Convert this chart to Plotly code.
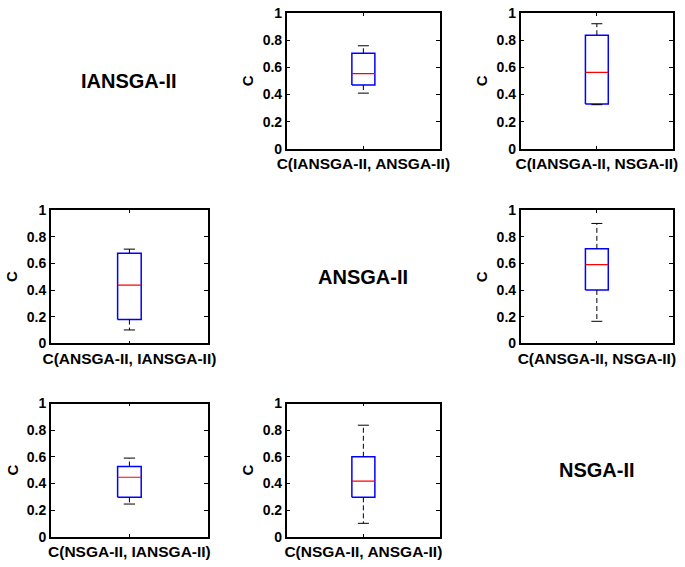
import plotly.graph_objects as go

# ---- data ----
labels = ["C(IANSGA-II, ANSGA-II)", "C(IANSGA-II, NSGA-II)",
          "C(ANSGA-II, IANSGA-II)", "C(ANSGA-II, NSGA-II)",
          "C(NSGA-II, IANSGA-II)", "C(NSGA-II, ANSGA-II)"]
lower = [0.41, 0.325, 0.10, 0.165, 0.245, 0.10]
q1 = [0.47, 0.33, 0.178, 0.40, 0.295, 0.295]
median = [0.553, 0.563, 0.437, 0.59, 0.446, 0.417]
q3 = [0.703, 0.836, 0.676, 0.709, 0.527, 0.60]
upper = [0.758, 0.92, 0.707, 0.90, 0.59, 0.837]
algorithms = ["IANSGA-II", "ANSGA-II", "NSGA-II"]
y_ticks = [0, 0.2, 0.4, 0.6, 0.8, 1]
y_ticktext = ["0", "0.2", "0.4", "0.6", "0.8", "1"]

# grid positions (row, col) for each panel
cells = [(0, 1), (0, 2), (1, 0), (1, 2), (2, 0), (2, 1)]

W, H = 685, 567
col_px = [(42, 204), (285, 443), (526, 683)]
row_px = [(5, 145), (208, 345), (407, 544)]

FONT = "Liberation Sans, Arial, sans-serif"
bw = 0.075   # box half width
cw = 0.036   # cap half width
xc = 1.0

fig = go.Figure()
layout = {}
for i, (r, c) in enumerate(cells):
    n = "" if i == 0 else str(i + 1)
    xa, ya = "x" + n, "y" + n
    # box
    fig.add_trace(go.Scatter(x=[xc - bw, xc + bw, xc + bw, xc - bw, xc - bw],
                             y=[q1[i], q1[i], q3[i], q3[i], q1[i]],
                             mode="lines", line=dict(color="#0000ff", width=1.5),
                             xaxis=xa, yaxis=ya, showlegend=False, hoverinfo="skip"))
    # median
    fig.add_trace(go.Scatter(x=[xc - bw, xc + bw], y=[median[i], median[i]],
                             mode="lines", line=dict(color="#ff0000", width=1.2),
                             xaxis=xa, yaxis=ya, showlegend=False, hoverinfo="skip"))
    # whiskers (dashed)
    fig.add_trace(go.Scatter(x=[xc, xc, None, xc, xc],
                             y=[q3[i], upper[i], None, q1[i], lower[i]],
                             mode="lines", line=dict(color="black", width=1, dash="5px,3px"),
                             xaxis=xa, yaxis=ya, showlegend=False, hoverinfo="skip"))
    # caps
    fig.add_trace(go.Scatter(x=[xc - cw, xc + cw, None, xc - cw, xc + cw],
                             y=[upper[i], upper[i], None, lower[i], lower[i]],
                             mode="lines", line=dict(color="black", width=1),
                             xaxis=xa, yaxis=ya, showlegend=False, hoverinfo="skip"))
    x0, x1 = col_px[c]
    y0, y1 = row_px[r]
    layout["xaxis" + n] = dict(
        domain=[x0 / W, x1 / W], anchor=ya, range=[0.5, 1.5],
        tickvals=[xc], ticktext=[labels[i]], ticks="inside", ticklen=3,
        tickcolor="black", showline=True, linecolor="black", linewidth=1.5,
        mirror="ticks", showgrid=False, zeroline=False, fixedrange=True,
        tickfont=dict(family=FONT, size=15.5, color="black", weight="bold"))
    layout["yaxis" + n] = dict(
        domain=[1 - y1 / H, 1 - y0 / H], anchor=xa, range=[0, 1],
        tickvals=y_ticks, ticktext=y_ticktext, ticks="inside", ticklen=4,
        tickcolor="black", showline=True, linecolor="black", linewidth=1.5,
        mirror="ticks", showgrid=False, zeroline=False, fixedrange=True,
        tickfont=dict(family=FONT, size=14, color="black", weight="bold"),
        title=dict(text="C", standoff=5,
                   font=dict(family=FONT, size=15, color="black", weight="bold")))

annotations = []
for k, name in enumerate(algorithms):
    x0, x1 = col_px[k]
    y0, y1 = row_px[k]
    annotations.append(dict(
        text=name, x=(x0 + x1) / 2 / W, y=1 - (y0 + y1) / 2 / H,
        xref="paper", yref="paper", showarrow=False,
        xanchor="center", yanchor="middle",
        font=dict(family=FONT, size=20, color="black", weight="bold")))

fig.update_layout(width=W, height=H, margin=dict(l=0, r=0, t=0, b=0),
                  paper_bgcolor="white", plot_bgcolor="white",
                  annotations=annotations, **layout)
fig.write_html("out.html", config={"displayModeBar": False},
               post_script="document.body.style.margin='0';document.body.style.overflow='hidden';")
